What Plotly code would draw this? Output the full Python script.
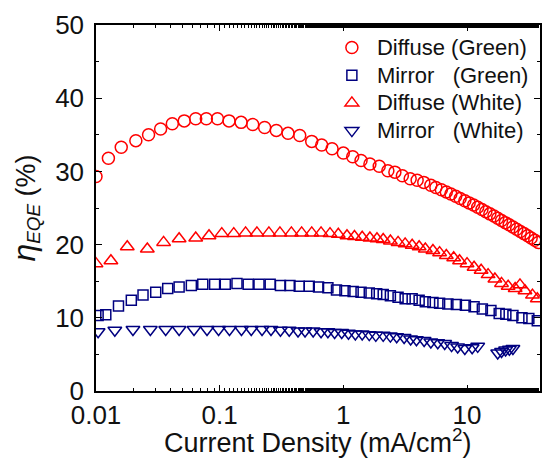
import plotly.graph_objects as go

# ---- data ----
dg_x = [0.01, 0.0126, 0.016, 0.021, 0.0266, 0.0333, 0.0414, 0.0517, 0.064, 0.078, 0.096, 0.119, 0.149, 0.185,
        0.231, 0.287, 0.357, 0.444, 0.555, 0.668, 0.81, 1.0, 1.19, 1.39, 1.64, 1.95, 2.29, 2.61, 3.0, 3.47, 3.95,
        4.47, 5.1, 5.6, 6.2, 6.8, 7.4, 8.1, 8.8, 9.6, 10.4, 11.3, 12.2, 13.2, 14.2, 15.3, 16.5, 17.7, 19.0, 20.4,
        21.9, 23.5, 25.2, 27.0, 28.9, 30.9, 33.0, 35.3, 37.7]
dg_y = [29.3, 31.8, 33.3, 34.2, 35.0, 35.8, 36.5, 36.9, 37.2, 37.2, 37.2, 36.9, 36.7, 36.4, 36.0, 35.6, 35.2,
        34.9, 34.1, 33.6, 33.1, 32.5, 32.0, 31.5, 31.0, 30.7, 30.1, 29.9, 29.4, 29.0, 28.8, 28.5, 28.1, 27.8,
        27.5, 27.2, 26.9, 26.6, 26.3, 26.0, 25.7, 25.4, 25.1, 24.8, 24.5, 24.2, 23.9, 23.6, 23.3, 23.0, 22.7,
        22.4, 22.1, 21.8, 21.5, 21.2, 20.9, 20.6, 20.3]

mg_x = [0.0104, 0.012, 0.0152, 0.0193, 0.024, 0.0304, 0.038, 0.047, 0.059, 0.073, 0.091, 0.111, 0.138, 0.17,
        0.208, 0.256, 0.31, 0.37, 0.44, 0.53, 0.63, 0.75, 0.88, 1.03, 1.2, 1.39, 1.62, 1.86, 2.1, 2.4, 2.77,
        3.16, 3.6, 4.1, 4.6, 5.3, 6.0, 7.0, 8.2, 9.7, 11.4, 13.3, 15.6, 18.2, 20.6, 23.5, 27.8, 31.6, 37.0]
mg_y = [10.3, 10.4, 11.6, 12.4, 13.1, 13.5, 14.0, 14.2, 14.4, 14.6, 14.6, 14.6, 14.7, 14.6, 14.6, 14.6, 14.4,
        14.4, 14.3, 14.3, 14.2, 14.1, 13.8, 13.7, 13.6, 13.5, 13.4, 13.3, 13.2, 13.0, 12.8, 12.6, 12.6, 12.4,
        12.2, 12.1, 12.0, 11.9, 11.8, 11.7, 11.5, 11.2, 11.0, 10.6, 10.5, 10.3, 10.0, 9.9, 9.6]

dw_x = [0.01, 0.0132, 0.0179, 0.026, 0.0352, 0.047, 0.064, 0.082, 0.104, 0.13, 0.162, 0.2, 0.25, 0.307, 0.38,
        0.46, 0.555, 0.66, 0.78, 0.91, 1.07, 1.23, 1.42, 1.64, 1.87, 2.1, 2.4, 2.77, 3.16, 3.6, 4.1, 4.6, 5.3,
        6.0, 6.8, 7.8, 8.7, 10.0, 11.4, 13.0, 14.8, 16.8, 19.0, 21.5, 24.5, 26.8, 29.4, 33.8, 37.0]
dw_y = [17.4, 17.8, 19.7, 19.4, 20.3, 20.8, 20.9, 21.2, 21.5, 21.5, 21.6, 21.6, 21.6, 21.6, 21.6, 21.6, 21.6,
        21.6, 21.5, 21.4, 21.2, 21.1, 21.0, 20.9, 20.8, 20.7, 20.5, 20.3, 20.1, 19.9, 19.7, 19.4, 19.2, 18.9,
        18.5, 18.2, 17.8, 17.4, 16.9, 16.5, 15.9, 15.3, 14.7, 14.3, 14.0, 14.5, 13.7, 13.1, 12.6]

mw_x = [0.0104, 0.0142, 0.0199, 0.0275, 0.0366, 0.047, 0.062, 0.079, 0.098, 0.12, 0.15, 0.18, 0.22, 0.26,
        0.31, 0.365, 0.43, 0.49, 0.57, 0.66, 0.75, 0.85, 0.97, 1.1, 1.25, 1.42, 1.62, 1.83, 2.1, 2.4, 2.7, 3.1,
        3.5, 3.9, 4.5, 5.1, 5.8, 6.6, 7.5, 8.4, 9.6, 11.0, 12.2, 17.7, 19.0, 20.5, 22.0, 23.5]
mw_y = [8.1, 8.3, 8.4, 8.4, 8.4, 8.4, 8.4, 8.4, 8.4, 8.4, 8.4, 8.4, 8.4, 8.4, 8.3, 8.3, 8.2, 8.2, 8.2, 8.1,
        8.1, 8.0, 8.0, 7.9, 7.8, 7.8, 7.7, 7.6, 7.6, 7.5, 7.4, 7.3, 7.1, 7.0, 6.9, 6.7, 6.6, 6.5, 6.2, 6.0,
        5.8, 5.9, 6.1, 5.2, 5.4, 5.6, 5.7, 5.8]

x_title = "Current Density (mA/cm<sup>2</sup>)"
y_title = "<span style='font-size:32px'><i>η</i></span><sub><i>EQE</i></sub> (%)"

RED = "#FF0000"
NAVY = "#000080"
NB = "\u00a0"
FONT = "Liberation Sans, Arial"


def big(s):
    return "<span style='font-size:22px'>" + s + "</span>"


series = [
    (big("Diffuse" + NB + "(Green)"), dg_x, dg_y, "circle-open", RED, 12),
    (big("Mirror" + NB * 3 + "(Green)"), mg_x, mg_y, "square-open", NAVY, 10),
    (big("Diffuse" + NB + "(White)"), dw_x, dw_y, "triangle-up-open", RED, 12),
    (big("Mirror" + NB * 3 + "(White)"), mw_x, mw_y, "triangle-down-open", NAVY, 12),
]

fig = go.Figure()
for i, (name, xs, ys, sym, col, sz) in enumerate(series):
    fig.add_trace(go.Scatter(
        x=xs, y=ys, mode="markers", name=name,
        marker=dict(symbol=sym, size=sz, color=col, line=dict(color=col, width=1.5)),
    ))

axis_common = dict(
    showline=True, linecolor="black", linewidth=1.5, mirror="ticks",
    ticks="inside", ticklen=6, tickwidth=1.2, tickcolor="black",
    showgrid=False, zeroline=False,
    tickfont=dict(family=FONT, size=26, color="#111"),
)

fig.update_xaxes(
    type="log", range=[-2, 1.59],
    tickvals=[0.01, 0.1, 1, 10], ticktext=["0.01", "0.1", "1", "10"],
    minor=dict(ticks="inside", ticklen=3, tickcolor="black", showgrid=False),
    **axis_common,
)
fig.update_yaxes(
    range=[0, 50], dtick=10, ticklabelstandoff=5,
    minor=dict(ticks="inside", ticklen=3, dtick=5, tickcolor="black", showgrid=False),
    title=dict(text=y_title, font=dict(family=FONT, size=27, color="#111"), standoff=12),
    **axis_common,
)

fig.add_annotation(
    text=x_title, xref="paper", yref="paper", x=0.5, y=-0.136,
    xanchor="center", yanchor="middle", showarrow=False,
    font=dict(family=FONT, size=27, color="#111"),
)

fig.update_layout(
    width=543, height=460,
    margin=dict(l=96, r=1, t=25, b=69),
    paper_bgcolor="white", plot_bgcolor="white",
    showlegend=True,
    legend=dict(
        x=0.52, y=0.99, xanchor="left", yanchor="top",
        bgcolor="rgba(0,0,0,0)", borderwidth=0,
        font=dict(family=FONT, size=19, color="#111"),
        itemwidth=40,
    ),
)

fig.write_html("out.html")
